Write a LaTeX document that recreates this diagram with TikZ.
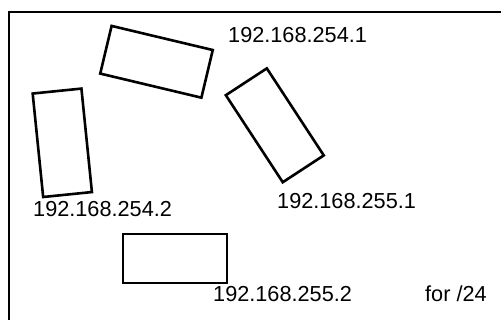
\documentclass[tikz,border=0pt]{standalone}
\usepackage{fontspec}
\setmainfont{Liberation Sans}
\usepackage{tikz}
\usetikzlibrary{positioning}

\begin{document}
\begin{tikzpicture}[x=1pt,y=-1pt,
    box/.style={draw,line width=2.6pt,minimum width=104pt,minimum height=49pt,inner sep=0pt},
    ip/.style={anchor=base west,inner sep=0pt,font=\fontsize{21.7}{26}\selectfont}]
  \useasboundingbox (0,0) rectangle (501,320);
  \clip (0,0) rectangle (501,320);
  \draw[line width=2.8pt] (9,12) rectangle (540,360);
  % routers
  \node[box,rotate=-13.4] (r1) at (156.5,61.8) {};
  \node[box,rotate=-84.2] (r2) at (62.3,142.8) {};
  \node[box,rotate=-56.8] (r3) at (274.8,125.3) {};
  \node[box] (r4) at (175,258.5) {};
  % addresses
  \node[ip] (a1) at (228,43) {192.168.254.1};
  \node[ip] (a2) at (33,217) {192.168.254.2};
  \node[ip] (a3) at (277,209) {192.168.255.1};
  \node[ip] (a4) at (213,302) {192.168.255.2};
  \node[ip] (mask) at (425,302) {for /24};
\end{tikzpicture}
\end{document}
